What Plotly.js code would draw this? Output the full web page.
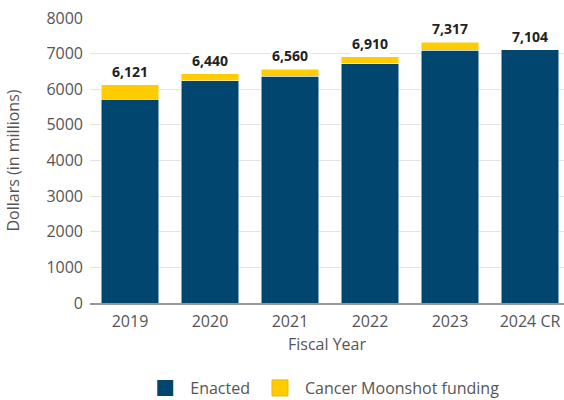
<!DOCTYPE html>
<html>
<head>
<meta charset="utf-8">
<script src="https://cdn.plot.ly/plotly-3.0.1.min.js"></script>
<style>html,body{margin:0;padding:0;background:#fff;}#chart{width:564px;height:400px;}</style>
</head>
<body>
<div id="chart"></div>
<script>
const years = ["2019", "2020", "2021", "2022", "2023", "2024 CR"];
const enacted = [5721, 6245, 6366, 6716, 7101, 7104];
const moonshot = [400, 195, 194, 194, 216, 0];
const totalLabels = ["6,121", "6,440", "6,560", "6,910", "7,317", "7,104"];
const yTicks = [0, 1000, 2000, 3000, 4000, 5000, 6000, 7000, 8000];

const navy = "#00466e";
const gold = "#ffcc00";
const totals = enacted.map((v, i) => v + moonshot[i]);

const traces = [
  {
    type: "bar", name: "Enacted", x: years, y: enacted, showlegend: false,
    marker: {color: navy, line: {color: "#ffffff", width: 0.5}},
    hoverinfo: "skip"
  },
  {
    type: "bar", name: "Cancer Moonshot funding", x: years, y: moonshot, showlegend: false,
    marker: {color: gold, line: {color: "#ffffff", width: 0.5}},
    hoverinfo: "skip"
  },
  {
    type: "scatter", mode: "markers", name: "Enacted", x: [null], y: [null],
    marker: {symbol: "square", size: 16, color: navy, line: {width: 0}}
  },
  {
    type: "scatter", mode: "markers", name: "Cancer Moonshot funding", x: [null], y: [null],
    marker: {symbol: "square", size: 16, color: gold, line: {width: 1, color: "#e6b800"}}
  }
];

const annotations = years.map((yr, i) => ({
  x: i, y: totals[i], xref: "x", yref: "y",
  text: "<b>" + totalLabels[i] + "</b>",
  showarrow: false, yanchor: "bottom", yshift: 2,
  bgcolor: "#ffffff", borderpad: 1,
  font: {family: "Open Sans", size: 14, color: "#222222"}
}));

const layout = {
  width: 564, height: 400,
  margin: {l: 90, r: 0, t: 18, b: 97},
  barmode: "stack", bargap: 0.28,
  paper_bgcolor: "#ffffff", plot_bgcolor: "#ffffff",
  font: {family: "Open Sans", color: "#555555"},
  xaxis: {
    type: "category", range: [-0.5, 5.425],
    tickfont: {size: 16, color: "#555555"},
    title: {text: "Fiscal Year", font: {size: 16, color: "#555555"}, standoff: 8},
    showline: true, linecolor: "#999999", linewidth: 1.5,
    ticks: "", showgrid: false, ticklabelstandoff: 3
  },
  yaxis: {
    range: [0, 8000], tickvals: yTicks,
    tickfont: {size: 16, color: "#555555"},
    title: {text: "Dollars (in millions)", font: {size: 16, color: "#555555"}, standoff: 22},
    showgrid: true, gridcolor: "#e3e3e3", gridwidth: 1,
    zeroline: false, ticks: "", ticklabelstandoff: 6
  },
  showlegend: true,
  legend: {
    orientation: "h", x: 0.49, xanchor: "center",
    yref: "container", y: 0.03, yanchor: "middle",
    font: {size: 16, color: "#555555"}, traceorder: "normal",
    itemwidth: 40, itemsizing: "trace"
  },
  annotations: annotations
};

Plotly.newPlot("chart", traces, layout, {displayModeBar: false, staticPlot: true});
</script>
</body>
</html>
